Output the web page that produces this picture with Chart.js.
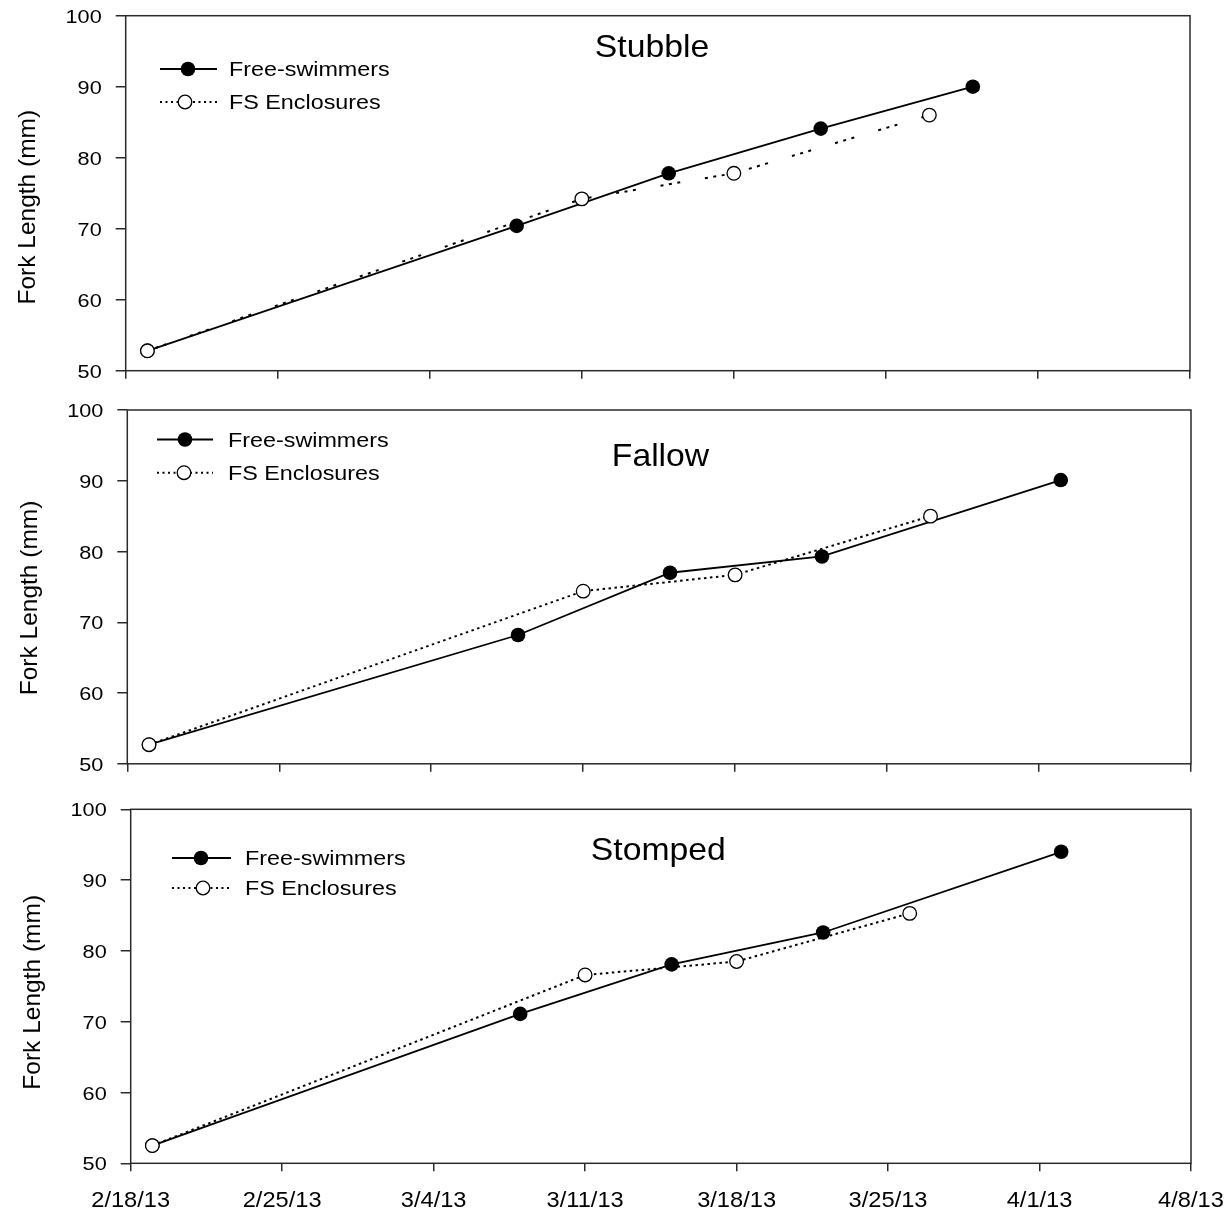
<!DOCTYPE html>
<html>
<head>
<meta charset="utf-8">
<title>Fork length of free-swimmers and enclosed fish</title>
<script src="https://cdn.jsdelivr.net/npm/chart.js@4.4.1/dist/chart.umd.min.js"></script>
<style>
  html, body { margin: 0; padding: 0; background: #fff; }
  #wrap { position: relative; width: 1228px; height: 1213px; overflow: hidden; }
  canvas { position: absolute; left: 0; }
</style>
</head>
<body>
<div id="wrap">
  <canvas id="c0"></canvas>
  <canvas id="c1"></canvas>
  <canvas id="c2"></canvas>
</div>
<script>
// ---- data ----
const xTickLabels = ['2/18/13', '2/25/13', '3/4/13', '3/11/13', '3/18/13', '3/25/13', '4/1/13', '4/8/13'];
const yTickValues = [50, 60, 70, 80, 90, 100];
const panelTitles = ['Stubble', 'Fallow', 'Stomped'];
const seriesNames = ['Free-swimmers', 'FS Enclosures'];
const yAxisTitle = 'Fork Length (mm)';

const stubbleFreeDates = ['2/19/13', '3/8/13', '3/15/13', '3/22/13', '3/29/13'];
const stubbleFreeFL    = [52.8, 70.4, 77.8, 84.1, 90.0];
const stubbleEnclDates = ['2/19/13', '3/11/13', '3/18/13', '3/27/13'];
const stubbleEnclFL    = [52.8, 74.2, 77.8, 86.0];

const fallowFreeDates = ['2/19/13', '3/8/13', '3/15/13', '3/22/13', '4/2/13'];
const fallowFreeFL    = [52.7, 68.2, 77.0, 79.3, 90.1];
const fallowEnclDates = ['2/19/13', '3/11/13', '3/18/13', '3/27/13'];
const fallowEnclFL    = [52.7, 74.4, 76.7, 85.0];

const stompedFreeDates = ['2/19/13', '3/8/13', '3/15/13', '3/22/13', '4/2/13'];
const stompedFreeFL    = [52.5, 71.1, 78.1, 82.6, 94.0];
const stompedEnclDates = ['2/19/13', '3/11/13', '3/18/13', '3/26/13'];
const stompedEnclFL    = [52.5, 76.6, 78.5, 85.3];

// ---- helpers ----
function parseDate(s) {
  const [m, d, y] = s.split('/').map(Number);
  return Date.UTC(2000 + y, m - 1, d);
}
const DAY = 86400000;
const origin = parseDate(xTickLabels[0]);
const dayOf = s => (parseDate(s) - origin) / DAY;
const toPoints = (dates, vals) => dates.map((d, i) => ({ x: dayOf(d), y: vals[i] }));

const FONT = '"Liberation Sans", Arial, Helvetica, sans-serif';

// text with horizontal stretch (the printed face runs wide)
function stretchedText(ctx, text, x, y, size, sx, align, baseline) {
  ctx.save();
  ctx.font = size + 'px ' + FONT;
  ctx.textBaseline = baseline || 'alphabetic';
  ctx.textAlign = 'left';
  const w = ctx.measureText(text).width * sx;
  const left = align === 'center' ? x - w / 2 : align === 'right' ? x - w : x;
  ctx.translate(left, y);
  ctx.scale(sx, 1);
  ctx.fillStyle = '#000';
  ctx.fillText(text, 0, 0);
  ctx.restore();
}

// ---- layout of the three stacked panels (page pixels) ----
const layout = [
  { top: 0,   height: 392, area: { l: 125.7, t: 15.7,  r: 1190, b: 370.7 },
    title: { x: 652, y: 57 }, ytitle: { x: 28, dy: 14 },
    legend: { x0: 160, x1: 217, mx: 188, tx: 229, y1: 69, y2: 102, ox: 185 },
    encDash: [3, 5.5, 3, 5.5, 3, 25], xLabels: false },
  { top: 392, height: 400, area: { l: 127.3, t: 410,   r: 1191, b: 763.8 },
    title: { x: 660.5, y: 466 }, ytitle: { x: 30, dy: 11 },
    legend: { x0: 157, x1: 213, mx: 185, tx: 228, y1: 439.5, y2: 472.7, ox: 184 },
    encDash: [2.5, 3.5], xLabels: false },
  { top: 792, height: 421, area: { l: 130.7, t: 809.3, r: 1191, b: 1163.3 },
    title: { x: 658.3, y: 860 }, ytitle: { x: 33, dy: 6 },
    legend: { x0: 172, x1: 231, mx: 201, tx: 245, y1: 858, y2: 888, ox: 203 },
    encDash: [2.5, 3.5], xLabels: true }
];

const panels = [
  { free: toPoints(stubbleFreeDates, stubbleFreeFL), encl: toPoints(stubbleEnclDates, stubbleEnclFL) },
  { free: toPoints(fallowFreeDates, fallowFreeFL),   encl: toPoints(fallowEnclDates, fallowEnclFL) },
  { free: toPoints(stompedFreeDates, stompedFreeFL), encl: toPoints(stompedEnclDates, stompedEnclFL) }
];

const AXIS = '#2a2a2a';

function makeChart(idx) {
  const L = layout[idx];
  const canvas = document.getElementById('c' + idx);
  canvas.width = 1228;
  canvas.height = L.height;
  canvas.style.top = L.top + 'px';
  const aTop = L.area.t - L.top;
  const aBottom = L.area.b - L.top;

  const decor = {
    id: 'decor',
    afterDatasetsDraw(chart) {
      const ctx = chart.ctx;
      const ca = chart.chartArea;
      const xs = chart.scales.x, ys = chart.scales.y;
      // frame
      ctx.save();
      ctx.strokeStyle = AXIS;
      ctx.lineWidth = 1.5;
      ctx.strokeRect(ca.left, ca.top, ca.right - ca.left, ca.bottom - ca.top);
      ctx.restore();
      // y tick labels
      yTickValues.forEach(v => {
        stretchedText(ctx, String(v), ca.left - 24, ys.getPixelForValue(v) + 7, 19, 1.14, 'right');
      });
      // x tick labels (bottom panel only)
      if (L.xLabels) {
        xTickLabels.forEach(s => {
          stretchedText(ctx, s, xs.getPixelForValue(dayOf(s)), 1207 - L.top, 21.5, 1.1, 'center');
        });
      }
      // y axis title
      ctx.save();
      ctx.translate(L.ytitle.x, (ca.top + ca.bottom) / 2 + L.ytitle.dy);
      ctx.rotate(-Math.PI / 2);
      ctx.font = '24.5px ' + FONT;
      ctx.textAlign = 'center';
      ctx.textBaseline = 'middle';
      ctx.fillStyle = '#000';
      ctx.fillText(yAxisTitle, 0, 0);
      ctx.restore();
      // panel title
      stretchedText(ctx, panelTitles[idx], L.title.x, L.title.y - L.top, 31.5, 1.07, 'center');
      // legend
      const lg = L.legend;
      const y1 = lg.y1 - L.top, y2 = lg.y2 - L.top;
      ctx.save();
      ctx.strokeStyle = '#000';
      ctx.lineWidth = 1.8;
      ctx.beginPath(); ctx.moveTo(lg.x0, y1); ctx.lineTo(lg.x1, y1); ctx.stroke();
      ctx.fillStyle = '#000';
      ctx.beginPath(); ctx.arc(lg.mx, y1, 7.3, 0, Math.PI * 2); ctx.fill();
      ctx.setLineDash([2, 3.5]);
      ctx.lineWidth = 2;
      ctx.beginPath(); ctx.moveTo(lg.x0, y2); ctx.lineTo(lg.x1, y2); ctx.stroke();
      ctx.setLineDash([]);
      ctx.fillStyle = '#fff';
      ctx.lineWidth = 1.3;
      ctx.beginPath(); ctx.arc(lg.ox, y2, 6.8, 0, Math.PI * 2); ctx.fill(); ctx.stroke();
      ctx.restore();
      stretchedText(ctx, seriesNames[0], lg.tx, y1 + 7.3, 20.3, 1.15, 'left');
      stretchedText(ctx, seriesNames[1], lg.tx, y2 + 7.3, 20.3, 1.15, 'left');
    }
  };

  return new Chart(canvas, {
    type: 'line',
    data: {
      datasets: [
        {
          label: seriesNames[1],
          data: panels[idx].encl,
          borderColor: '#000',
          borderWidth: 2,
          borderDash: L.encDash,
          pointRadius: 6.8,
          pointBorderWidth: 1.3,
          pointBackgroundColor: '#fff',
          pointBorderColor: '#000',
          tension: 0,
          fill: false
        },
        {
          label: seriesNames[0],
          data: panels[idx].free,
          borderColor: '#000',
          borderWidth: 1.8,
          pointRadius: 7.3,
          pointBorderWidth: 0,
          pointBackgroundColor: '#000',
          pointBorderColor: '#000',
          tension: 0,
          fill: false
        }
      ]
    },
    options: {
      responsive: false,
      animation: false,
      devicePixelRatio: 1,
      clip: false,
      layout: { padding: { top: aTop, right: 1228 - L.area.r, left: 0, bottom: 0 } },
      plugins: { legend: { display: false }, tooltip: { enabled: false }, title: { display: false } },
      scales: {
        x: {
          type: 'linear',
          min: dayOf(xTickLabels[0]),
          max: dayOf(xTickLabels[xTickLabels.length - 1]),
          afterBuildTicks: s => { s.ticks = xTickLabels.map(t => ({ value: dayOf(t) })); },
          ticks: { display: false },
          grid: { drawOnChartArea: false, drawTicks: true, tickLength: 8, color: AXIS, lineWidth: 1.5 },
          border: { display: false },
          afterFit: s => { s.height = L.height - aBottom; }
        },
        y: {
          type: 'linear',
          min: yTickValues[0],
          max: yTickValues[yTickValues.length - 1],
          afterBuildTicks: s => { s.ticks = yTickValues.map(v => ({ value: v })); },
          ticks: { display: false },
          grid: { drawOnChartArea: false, drawTicks: true, tickLength: 10, color: AXIS, lineWidth: 1.5 },
          border: { display: false },
          afterFit: s => { s.width = L.area.l; }
        }
      }
    },
    plugins: [decor]
  });
}

[0, 1, 2].forEach(makeChart);
</script>
</body>
</html>
